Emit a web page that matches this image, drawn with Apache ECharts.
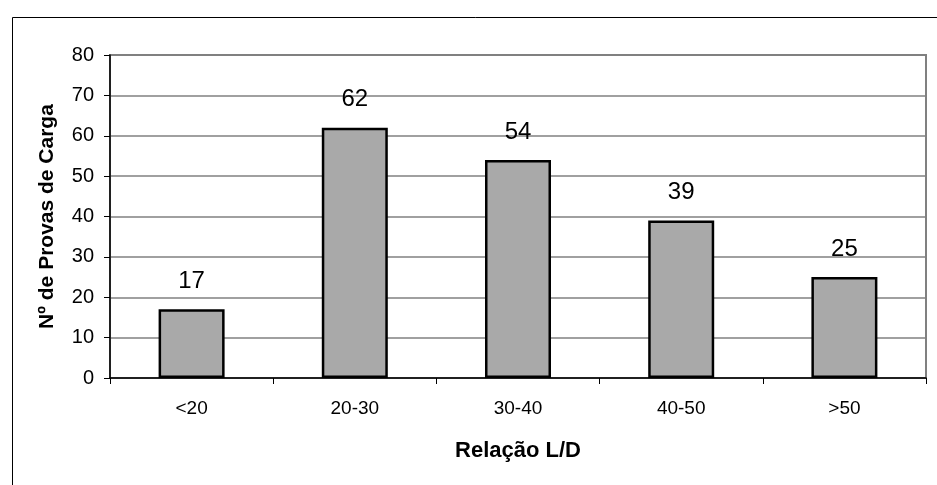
<!DOCTYPE html>
<html><head><meta charset="utf-8">
<script src="https://cdn.jsdelivr.net/npm/echarts@6/dist/echarts.min.js"></script>
<style>html,body{margin:0;padding:0;background:#fff}#c{width:937px;height:485px}</style>
</head><body><div id="c"></div>
<script>
const categories = ['<20', '20-30', '30-40', '40-50', '>50'];
const values = [17, 62, 54, 39, 25];
const yTicks = [0, 10, 20, 30, 40, 50, 60, 70, 80];
const xTitle = 'Relação L/D';
const yTitle = 'Nº de Provas de Carga';

const chart = echarts.init(document.getElementById('c'), null, {renderer: 'canvas'});
const font = 'Arial, "Liberation Sans", sans-serif';
chart.setOption({
  animation: false,
  backgroundColor: '#fff',
  graphic: [{
    type: 'rect', left: 10, top: 15, shape: {width: 1000, height: 1000},
    style: {fill: 'none', stroke: '#000', lineWidth: 1}, silent: true
  }],
  grid: {left: 110, top: 55, right: 11, bottom: 107, show: true, borderColor: '#808080', borderWidth: 2, backgroundColor: '#fff'},
  xAxis: {
    type: 'category', data: categories, boundaryGap: true,
    axisLine: {lineStyle: {color: '#000', width: 1.5}},
    axisTick: {show: true, length: 6, inside: false, lineStyle: {color: '#000'}},
    axisLabel: {color: '#000', fontFamily: font, fontSize: 19, margin: 21},
    name: xTitle, nameLocation: 'middle', nameGap: 62,
    nameTextStyle: {color: '#000', fontFamily: font, fontSize: 22, fontWeight: 'bold'}
  },
  yAxis: {
    type: 'value', min: yTicks[0], max: yTicks[yTicks.length - 1], interval: 10,
    axisLine: {show: true, lineStyle: {color: '#000', width: 1.5}},
    axisTick: {show: true, length: 6, lineStyle: {color: '#000'}},
    axisLabel: {color: '#000', fontFamily: font, fontSize: 20, margin: 16},
    splitLine: {lineStyle: {color: '#808080', width: 1.5}},
    name: yTitle, nameLocation: 'middle', nameGap: 52, nameRotate: 90,
    nameTextStyle: {color: '#000', fontFamily: font, fontSize: 21, fontWeight: 'bold'}
  },
  series: [{
    type: 'bar', data: values, barWidth: 66,
    itemStyle: {color: '#a9a9a9', borderColor: '#000', borderWidth: 2.5},
    label: {show: true, position: 'top', distance: 16, color: '#000', fontFamily: font, fontSize: 24}
  }]
});
</script></body></html>
